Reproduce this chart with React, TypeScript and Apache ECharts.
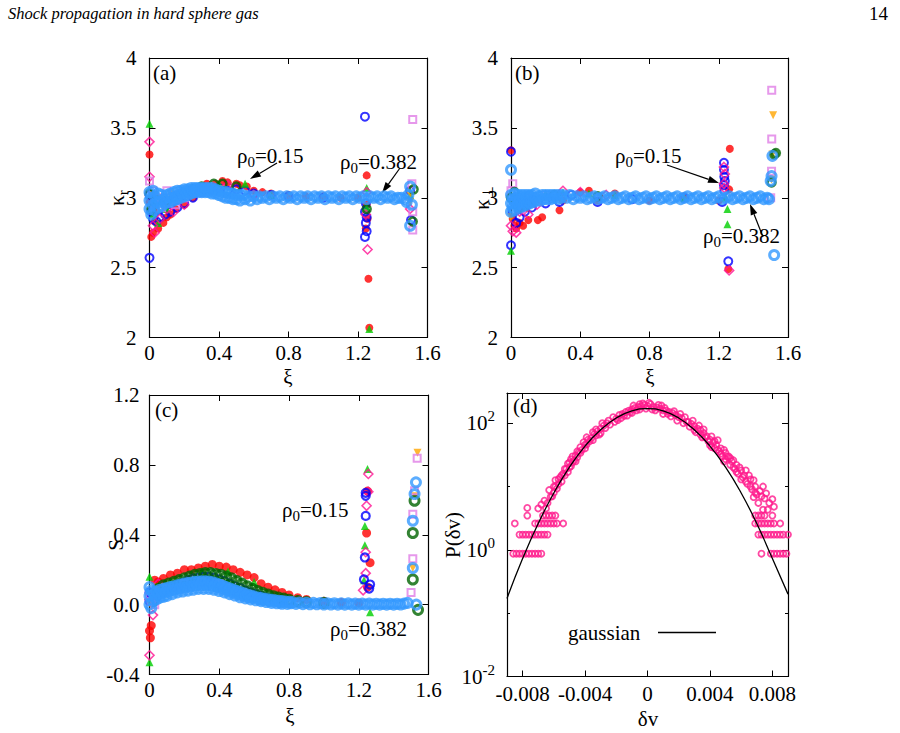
import React, { useEffect, useRef } from "react";
import * as echarts from "echarts";

const FONT = "'Liberation Serif', 'Times New Roman', Times, serif";
const FS = 21;

// ---------- tick values ----------
const xiTicks = [0, 0.4, 0.8, 1.2, 1.6];
const kappaTicks = [2, 2.5, 3, 3.5, 4];
const sTicks = [-0.4, 0, 0.4, 0.8, 1.2];
const dvRange = [-0.009, 0.009];
const dvTicks = [-0.008, -0.004, 0, 0.004, 0.008];
const pRange = [0.01, 300];
const pTicks = [0.01, 1, 100];
const pMinorTicks = [0.1, 10];

// ---------- panel (a): kappa_r vs xi ----------
const aRed = [[0,3.31],[0.0,2.97],[0.01,2.72],[0.02,2.75],[0.03,2.83],[0.04,2.9],[0.05,2.78],[0.08,2.82],[0.1,2.86],[0.12,2.88],[0.15,2.92],[0.2,2.95],[0.25,3.0],[0.3,3.07],[0.33,3.1],[0.38,3.1],[0.42,3.12],[0.45,3.11],[0.5,3.1],[0.52,3.09],[0.56,3.08],[0.6,3.05],[0.65,3.04],[0.7,3.03],[0.8,3.02],[0.9,3.01],[1.0,3.01],[1.1,3.0],[1.2,3.0],[1.25,3.16],[1.25,2.95],[1.255,2.85],[1.245,2.78],[1.26,2.42],[1.265,2.07]];
const aBlue = [[0,2.57],[0,3.02],[0.01,2.9],[0.02,2.85],[0.04,2.83],[0.06,2.86],[0.09,2.88],[0.12,2.9],[0.16,2.93],[0.2,2.96],[0.25,3.0],[0.3,3.04],[0.35,3.06],[0.4,3.07],[0.45,3.05],[0.5,3.06],[0.55,3.05],[0.6,3.03],[0.7,3.02],[0.8,3.01],[1.0,3.0],[1.24,3.58],[1.245,2.96],[1.24,2.9],[1.245,2.82],[1.25,2.76],[1.24,2.72],[1.25,2.86],[1.5,3.05],[1.505,2.84]];
const aGreen = [[0,3.53],[0.02,2.88],[0.05,2.82],[0.1,2.92],[0.3,3.06],[0.4,3.1],[0.55,3.1],[0.7,3.02],[1.25,3.07],[1.25,2.93],[1.265,2.06],[1.5,3.02]];
const aPink = [[0,3.4],[0,3.15],[0.02,2.8],[0.03,2.75],[0.06,2.85],[0.1,2.92],[0.14,2.9],[0.2,2.95],[0.35,3.07],[0.45,3.09],[0.6,3.02],[1.25,3.04],[1.245,2.88],[1.255,2.63],[1.5,2.92]];
const aOrange = [[0.02,3.02],[0.05,3.0],[0.08,2.98],[0.12,3.03],[0.25,3.04],[0.4,3.06],[1.5,3.02],[1.5,2.97]];
const aViolet = [[0,3.12],[0.02,3.05],[0.03,2.95],[0.05,3.0],[0.07,2.93],[0.1,3.05],[0.15,2.95],[0.2,3.0],[0.3,3.04],[1.515,3.56],[1.51,3.1],[1.515,2.9],[1.515,2.77]];
const aDkGreen = [[0,3.03],[0.01,2.92],[0.04,2.98],[0.1,2.98],[0.25,3.06],[0.3,3.08],[0.37,3.1],[0.42,3.1],[0.5,3.08],[1.25,2.92],[1.52,3.06],[1.515,2.83]];
const aDodger = [[0,2.92],[0,2.98],[0,3.04],[0.01,2.88],[0.01,3.0],[0.02,2.95],[0.02,3.05],[0.03,2.91],[0.03,3.01],[0.04,2.97],[0.05,2.93],[0.05,3.03],[0.06,2.97],[0.07,2.94],[0.07,3.02],[0.08,2.99],[0.09,2.96],[0.1,3.02],[0.1,2.97],[0.11,3.0],[0.12,2.97],[0.12,3.03],[0.13,3.0],[0.14,2.98],[0.14,3.04],[0.15,3.01],[0.16,2.99],[0.16,3.05],[0.17,3.02],[0.18,3.0],[0.18,3.05],[0.19,3.03],[0.2,3.01],[0.2,3.06],[0.21,3.04],[0.22,3.02],[0.22,3.06],[0.23,3.04],[0.24,3.03],[0.24,3.07],[0.25,3.05],[0.26,3.04],[0.26,3.07],[0.27,3.06],[0.28,3.04],[0.28,3.07],[0.29,3.06],[0.3,3.04],[0.3,3.07],[0.31,3.06],[0.32,3.04],[0.32,3.07],[0.33,3.06],[0.34,3.04],[0.34,3.07],[0.35,3.06],[0.36,3.03],[0.36,3.07],[0.37,3.05],[0.38,3.03],[0.38,3.06],[0.4,3.05],[0.4,3.02],[0.42,3.04],[0.42,3.01],[0.44,3.04],[0.44,3.0],[0.46,3.03],[0.46,3.0],[0.48,3.03],[0.48,2.99],[0.5,3.02],[0.5,2.99],[0.52,3.02],[0.52,2.98],[0.54,3.02],[0.55,2.99],[0.57,3.01],[0.58,2.98],[0.6,3.01],[0.62,2.99],[0.63,3.01],[0.65,3.0],[0.67,3.01],[0.69,2.99],[0.71,3.01],[0.73,3.0],[0.75,3.01],[0.77,2.99],[0.79,3.01],[0.81,3.0],[0.83,3.01],[0.85,2.99],[0.87,3.01],[0.89,3.0],[0.91,3.01],[0.93,2.99],[0.95,3.01],[0.97,3.0],[0.99,3.01],[1.01,2.99],[1.03,3.01],[1.05,3.0],[1.07,3.01],[1.09,2.99],[1.11,3.01],[1.13,3.0],[1.15,3.01],[1.17,2.99],[1.19,3.01],[1.21,3.0],[1.23,3.01],[1.25,2.99],[1.27,3.01],[1.29,3.0],[1.31,3.01],[1.33,2.99],[1.35,3.01],[1.37,3.0],[1.39,3.01],[1.41,2.99],[1.43,3.0],[1.45,3.0],[1.47,2.99],[1.48,2.97],[1.49,3.02],[1.5,3.08],[1.5,2.8],[1.51,2.95]];

// ---------- panel (b): kappa_perp vs xi ----------
const bRed = [[0,3.34],[0.01,2.85],[0.02,2.8],[0.03,2.78],[0.05,2.82],[0.07,2.8],[0.1,2.84],[0.155,2.84],[0.18,2.86],[0.28,2.91],[0.3,2.98],[0.4,3.04],[0.45,3.05],[0.5,2.98],[0.6,3.03],[0.8,2.98],[1.0,3.01],[1.2,2.98],[1.264,3.35],[1.26,3.06],[1.255,2.49]];
const bBlue = [[0,3.33],[0,2.66],[0.01,2.9],[0.03,2.82],[0.05,2.86],[0.08,2.9],[0.12,2.93],[0.2,2.96],[0.28,2.97],[0.35,3.02],[0.5,2.97],[0.7,2.99],[1.0,3.0],[1.23,3.25],[1.23,3.2],[1.232,3.15],[1.235,3.12],[1.23,3.09],[1.232,3.05],[1.22,2.97],[1.255,2.545]];
const bGreen = [[0,2.62],[0.03,2.95],[0.08,2.93],[0.2,3.03],[0.3,3.04],[0.45,3.03],[0.6,3.02],[1.0,3.0],[1.24,3.0],[1.25,2.92],[1.25,2.81]];
const bPink = [[0,2.8],[0.01,2.76],[0.03,2.75],[0.05,2.9],[0.1,2.88],[0.15,2.95],[0.3,3.05],[0.4,3.04],[0.55,3.02],[1.23,3.22],[1.235,3.17],[1.23,3.1],[1.232,3.07],[1.26,2.48]];
const bOrange = [[0,2.86],[0.02,2.98],[0.05,2.97],[0.1,2.96],[1.514,3.59],[1.51,3.31],[1.505,3.13]];
const bViolet = [[0,3.05],[0.01,3.1],[0.02,3.0],[0.04,2.97],[0.06,2.92],[0.1,3.0],[0.2,3.02],[1.506,3.77],[1.506,3.42],[1.505,3.19],[1.5,3.0]];
const bDkGreen = [[0,3.0],[0.02,3.04],[0.05,2.93],[0.1,2.96],[0.25,3.02],[0.5,3.01],[1.52,3.31],[1.505,3.11],[1.53,3.32]];
const bDodger = [[0,2.9],[0,2.96],[0,3.02],[0,3.2],[0.01,2.93],[0.01,2.99],[0.02,2.91],[0.02,2.97],[0.02,3.03],[0.03,2.94],[0.03,3.0],[0.04,2.96],[0.04,3.02],[0.05,2.93],[0.05,2.99],[0.06,2.96],[0.06,3.02],[0.07,2.94],[0.07,3.0],[0.08,2.97],[0.08,3.02],[0.09,2.95],[0.09,3.0],[0.1,2.97],[0.1,3.02],[0.11,2.96],[0.11,3.01],[0.12,2.98],[0.12,3.02],[0.13,2.97],[0.14,3.0],[0.14,3.03],[0.15,2.98],[0.16,3.01],[0.17,2.98],[0.18,3.02],[0.19,2.99],[0.2,3.02],[0.21,2.99],[0.22,3.02],[0.23,2.99],[0.24,3.02],[0.25,3.0],[0.26,3.02],[0.27,2.99],[0.28,3.02],[0.29,3.0],[0.3,3.02],[0.32,3.0],[0.34,3.02],[0.36,2.99],[0.38,3.01],[0.4,3.0],[0.42,3.01],[0.44,2.99],[0.46,3.0],[0.48,3.01],[0.5,2.99],[0.52,3.0],[0.54,3.01],[0.56,2.99],[0.58,3.0],[0.6,3.01],[0.62,2.99],[0.64,3.0],[0.66,3.01],[0.68,2.99],[0.7,3.0],[0.72,3.01],[0.74,2.99],[0.76,3.0],[0.78,3.01],[0.8,2.99],[0.82,3.0],[0.84,3.01],[0.86,2.99],[0.88,3.0],[0.9,3.01],[0.92,2.99],[0.94,3.0],[0.96,3.01],[0.98,2.99],[1.0,3.0],[1.02,3.01],[1.04,2.99],[1.06,3.0],[1.08,3.01],[1.1,2.99],[1.12,3.0],[1.14,3.01],[1.16,2.99],[1.18,3.0],[1.2,3.01],[1.22,2.99],[1.24,3.0],[1.26,3.01],[1.28,2.99],[1.3,3.0],[1.32,3.01],[1.34,2.99],[1.36,3.0],[1.38,3.01],[1.4,2.99],[1.42,3.0],[1.44,3.01],[1.46,2.99],[1.48,3.0],[1.49,2.99],[1.5,3.12],[1.505,3.155],[1.51,3.3],[1.52,2.59]];

// ---------- panel (c): S vs xi ----------
const cRed = [[0,-0.15],[0.005,-0.19],[0.01,-0.12],[0.03,0.14],[0.05,0.13],[0.08,0.15],[0.12,0.17],[0.16,0.18],[0.2,0.2],[0.24,0.2],[0.28,0.21],[0.32,0.22],[0.36,0.23],[0.4,0.22],[0.44,0.215],[0.48,0.2],[0.52,0.185],[0.56,0.17],[0.6,0.155],[0.64,0.12],[0.68,0.1],[0.72,0.085],[0.76,0.07],[0.8,0.055],[0.85,0.04],[0.9,0.03],[1.0,0.02],[1.1,0.012],[1.2,0.01],[1.25,0.65],[1.245,0.41],[1.265,0.24],[1.25,0.1]];
const cGreen = [[0,0.16],[0,-0.33],[0.3,0.19],[0.45,0.19],[0.6,0.13],[1.25,0.777],[1.235,0.45],[1.235,0.34],[1.23,0.14],[1.265,-0.044]];
const cPink = [[0,-0.29],[0,0.03],[0.02,-0.06],[0.05,0.12],[0.1,0.1],[0.25,0.15],[1.255,0.748],[1.255,0.646],[1.245,0.566],[1.24,0.3],[1.24,0.18],[1.225,0.082]];
const cOrange = [[0,0.01],[0.01,-0.01],[0.05,0.1],[0.15,0.12],[0.3,0.15],[1.537,0.87],[1.525,0.62],[1.51,0.21]];
const cBlue = [[0,0.07],[0,0.02],[0.02,0.05],[0.04,0.04],[0.06,0.065],[0.08,0.075],[0.1,0.085],[0.13,0.1],[0.16,0.115],[0.19,0.125],[0.22,0.14],[0.25,0.15],[0.28,0.155],[0.31,0.16],[0.34,0.16],[0.37,0.155],[0.4,0.145],[0.43,0.135],[0.46,0.12],[0.49,0.105],[0.52,0.095],[0.55,0.08],[0.58,0.07],[0.61,0.06],[0.64,0.05],[0.67,0.042],[0.7,0.035],[0.75,0.027],[0.8,0.02],[1.24,0.64],[1.24,0.623],[1.24,0.508],[1.235,0.27],[1.23,0.144],[1.265,0.115],[1.26,0.092]];
const cDkGreen = [[0.02,0.02],[0.05,0.09],[0.08,0.11],[0.11,0.12],[0.14,0.13],[0.17,0.14],[0.2,0.15],[0.23,0.16],[0.26,0.17],[0.29,0.175],[0.32,0.18],[0.35,0.18],[0.38,0.175],[0.41,0.17],[0.44,0.16],[0.47,0.15],[0.5,0.135],[0.53,0.12],[0.56,0.105],[0.59,0.09],[0.62,0.078],[0.65,0.067],[0.68,0.057],[0.71,0.048],[0.74,0.04],[0.77,0.034],[0.8,0.028],[0.85,0.02],[0.9,0.015],[1.0,0.01],[1.52,0.595],[1.51,0.41],[1.51,0.144],[1.54,-0.03]];
const cViolet = [[0,0.05],[0.01,0.02],[0.03,0.0],[0.06,0.06],[0.1,0.09],[0.2,0.12],[0.3,0.13],[0.4,0.12],[1.535,0.838],[1.52,0.652],[1.51,0.518],[1.51,0.263],[1.5,0.07]];
const cDodger = [[0,0.1],[0,0.05],[0,0.0],[0.01,0.08],[0.01,-0.02],[0.02,0.07],[0.02,0.02],[0.03,0.05],[0.04,0.075],[0.04,0.03],[0.05,0.06],[0.06,0.085],[0.06,0.04],[0.07,0.065],[0.08,0.09],[0.08,0.045],[0.09,0.07],[0.1,0.095],[0.1,0.05],[0.11,0.075],[0.12,0.1],[0.13,0.06],[0.13,0.082],[0.14,0.105],[0.15,0.088],[0.16,0.11],[0.16,0.07],[0.17,0.092],[0.18,0.115],[0.19,0.075],[0.19,0.097],[0.2,0.12],[0.21,0.1],[0.22,0.123],[0.22,0.08],[0.23,0.104],[0.24,0.127],[0.25,0.085],[0.25,0.108],[0.26,0.13],[0.27,0.11],[0.28,0.132],[0.28,0.09],[0.29,0.112],[0.3,0.133],[0.31,0.09],[0.31,0.112],[0.32,0.133],[0.33,0.112],[0.34,0.132],[0.34,0.09],[0.35,0.11],[0.36,0.128],[0.37,0.085],[0.37,0.106],[0.38,0.122],[0.39,0.1],[0.4,0.115],[0.4,0.078],[0.41,0.095],[0.42,0.108],[0.43,0.07],[0.43,0.088],[0.44,0.1],[0.45,0.08],[0.46,0.093],[0.46,0.06],[0.47,0.075],[0.48,0.086],[0.49,0.052],[0.49,0.068],[0.5,0.079],[0.51,0.06],[0.52,0.072],[0.52,0.042],[0.53,0.055],[0.54,0.065],[0.55,0.036],[0.55,0.05],[0.56,0.058],[0.57,0.043],[0.58,0.052],[0.58,0.03],[0.59,0.04],[0.6,0.046],[0.61,0.025],[0.62,0.041],[0.63,0.03],[0.64,0.037],[0.64,0.02],[0.65,0.027],[0.66,0.033],[0.67,0.015],[0.68,0.03],[0.69,0.02],[0.7,0.027],[0.7,0.01],[0.72,0.024],[0.73,0.008],[0.74,0.022],[0.75,0.012],[0.76,0.02],[0.76,0.005],[0.78,0.018],[0.79,0.004],[0.8,0.016],[0.81,0.008],[0.82,0.014],[0.84,0.004],[0.86,0.012],[0.88,0.003],[0.9,0.011],[0.92,0.002],[0.94,0.01],[0.96,0.002],[0.98,0.009],[1.0,0.001],[1.02,0.008],[1.04,0.001],[1.06,0.008],[1.08,0.0],[1.1,0.007],[1.12,0.0],[1.14,0.007],[1.16,0.0],[1.18,0.006],[1.2,0.0],[1.22,0.006],[1.24,0.0],[1.26,0.006],[1.28,0.0],[1.3,0.005],[1.32,0.0],[1.34,0.005],[1.36,0.0],[1.38,0.005],[1.4,0.0],[1.42,0.005],[1.44,0.001],[1.46,0.006],[1.48,0.01],[1.528,0.7],[1.52,0.633],[1.51,0.48],[1.51,0.21],[1.53,0.0]];

// ---------- panel (d): P(dv) ----------
const dPoints = [
  [-0.0025,110],[-0.0022,125],[-0.002,118],[-0.0018,135],[-0.0016,140],[-0.0014,150],[-0.0012,158],[-0.001,165],[-0.0008,175],[-0.0006,180],[-0.0004,185],[-0.0002,195],[0,188],[0.0002,200],[0.0004,180],[0.0006,178],[0.0008,170],[0.001,160],[0.0012,158],[0.0014,150],[0.0016,145],[0.0018,135],[0.002,125],[0.0022,120],[0.0025,105],
  [-0.0015,130],[-0.0005,165],[0.0005,160],[0.0015,128],[-0.001,145],[0.001,140],[-0.0003,205],[0.0009,190],
  [-0.0024,95],[-0.0021,105],[-0.0019,112],[-0.0017,120],[-0.0013,132],[-0.0011,150],[-0.0009,190],[-0.0007,160],[-0.0005,200],[-0.0001,170],[0.0001,210],[0.0003,165],[0.0007,195],[0.0011,175],[0.0013,140],[0.0017,155],[0.0019,110],[0.0021,140],[0.0023,100],[0.0024,125],
  [-0.0026,100],[-0.0028,92],[-0.003,82],[-0.003,70],[-0.0032,75],[-0.0033,64],[-0.0034,68],[-0.0036,58],[-0.0037,52],[-0.0038,55],[-0.004,46],[-0.004,40],[-0.0042,38],[-0.0043,34],[-0.0044,35],[-0.0045,29],[-0.0046,31],[-0.0047,26],[-0.0048,24],[-0.0049,27],[-0.005,20],[-0.005,24],[-0.0051,17],[-0.0052,19],[-0.0053,15],[-0.0054,16],[-0.0055,12],[-0.0056,14],[-0.0057,11],[-0.0058,9.3],[-0.0059,12.6],[-0.006,8],[-0.006,10],[-0.0061,7],[-0.0062,6.9],[-0.0063,8.8],[-0.0064,5.5],[-0.0065,4.5],[-0.0066,6],[-0.0068,5.2],[-0.007,4.5],[-0.0077,4.6],
  [-0.0027,84],[-0.0029,100],[-0.0031,66],[-0.0033,80],[-0.0035,54],[-0.0035,72],[-0.0039,46],[-0.0039,60],[-0.0041,50],[-0.0043,42],[-0.0045,36],[-0.0046,25],[-0.0048,30],[-0.0049,21],[-0.0051,23],[-0.0053,19],[-0.0055,15],[-0.0057,13],[-0.0059,10],
  [-0.0077,3.48],[-0.0067,3.48],[-0.0065,3.48],[-0.0063,3.48],[-0.0061,3.48],[-0.0059,3.48],
  [-0.0085,2.61],[-0.0072,2.61],[-0.007,2.61],[-0.0068,2.61],[-0.0066,2.61],[-0.0064,2.61],[-0.0062,2.61],[-0.006,2.61],[-0.0058,2.61],[-0.0054,2.61],
  [-0.0082,1.74],[-0.008,1.74],[-0.0078,1.74],[-0.0076,1.74],[-0.0074,1.74],[-0.0072,1.74],[-0.007,1.74],[-0.0068,1.74],[-0.0066,1.74],[-0.0064,1.74],
  [-0.0086,0.87],[-0.0084,0.87],[-0.0082,0.87],[-0.008,0.87],[-0.0078,0.87],[-0.0076,0.87],[-0.0074,0.87],[-0.0072,0.87],[-0.007,0.87],[-0.0068,0.87],
  [0.0026,105],[0.0028,98],[0.003,90],[0.003,78],[0.0032,82],[0.0034,78],[0.0034,66],[0.0036,70],[0.0037,60],[0.0038,62],[0.004,55],[0.004,45],[0.0042,50],[0.0043,40],[0.0044,46],[0.0045,54],[0.0046,36],[0.0047,40],[0.0048,30],[0.005,34],[0.005,27],[0.0052,30],[0.0053,22],[0.0054,25],[0.0055,26],[0.0056,19],[0.0057,22],[0.0058,16],[0.006,18],[0.006,13],[0.0062,15],[0.0063,18],[0.0064,11],[0.0066,13],[0.0067,9],[0.0068,12.6],[0.0069,10],[0.007,7.5],[0.0072,8.5],[0.0074,10],[0.0075,6.5],[0.0076,7.8],[0.0078,5.5],[0.008,6.3],[0.0081,4.8],[0.0068,6.8],[0.0071,5.5],
  [0.0027,88],[0.0029,110],[0.0031,72],[0.0033,92],[0.0035,60],[0.0036,80],[0.0039,52],[0.0041,62],[0.0041,42],[0.0043,52],[0.0045,38],[0.0047,33],[0.0049,38],[0.0049,25],[0.0051,30],[0.0053,28],[0.0055,20],[0.0057,17],[0.0059,20],[0.0061,14],[0.0063,12],[0.0065,15],[0.0066,10],[0.0069,8],[0.0073,7],
  [0.0069,3.48],[0.0071,3.48],[0.0073,3.48],[0.0075,3.48],[0.0077,4.3],[0.008,3.48],[0.0074,4.3],
  [0.0069,2.61],[0.0071,2.61],[0.0073,2.61],[0.0075,2.61],[0.0077,2.61],[0.0079,2.61],[0.0081,2.61],[0.0085,2.61],
  [0.0071,1.74],[0.0073,1.74],[0.0075,1.74],[0.0077,1.74],[0.0079,1.74],[0.0081,1.74],[0.0083,1.74],[0.0085,1.74],[0.0087,1.74],[0.009,1.74],
  [0.0073,0.87],[0.0079,0.87],[0.0081,0.87],[0.0083,0.87],[0.0085,0.87],[0.0087,0.87],[0.0089,0.87],
];
const gaussV = [-0.009,-0.008,-0.007,-0.006,-0.005,-0.004,-0.003,-0.002,-0.001,0,0.001,0.002,0.003,0.004,0.005,0.006,0.007,0.008,0.009];
const gaussP = [0.171,0.728,2.61,7.91,20.2,43.5,78.9,121,156,170,156,121,78.9,43.5,20.2,7.91,2.61,0.728,0.2];

// ---------- colours ----------
const RED = "#ff0000", BLUE = "#0000ff", GREEN = "#00d000", PINK = "#ff1493",
  ORANGE = "#ffa500", VIOLET = "#e07ee6", DKGREEN = "#006400", DODGER = "#3399ff", DPINK = "#ff1a8c";

const GRIDS = [
  { left: 149.5, top: 58, width: 278, height: 279.5 },
  { left: 511, top: 58, width: 277, height: 279.5 },
  { left: 149.5, top: 395, width: 279, height: 279.5 },
  { left: 507, top: 393, width: 281, height: 283.5 },
];

const axLine = { show: true, onZero: false, lineStyle: { color: "#000", width: 1.2 } };
const axTick = { show: true, inside: true, length: 6, lineStyle: { color: "#000", width: 1 } };
const lab = (extra: any) => ({ show: true, color: "#000", fontFamily: FONT, fontSize: FS, ...extra });

function valAxis(gi: number, pos: string, ticks: number[], showLabel: boolean, fmt: (v: number) => string, margin: number) {
  return {
    type: "value", gridIndex: gi, position: pos,
    min: ticks[0], max: ticks[ticks.length - 1], interval: ticks[1] - ticks[0],
    axisLine: axLine, axisTick: axTick, splitLine: { show: false },
    axisLabel: showLabel ? lab({ margin, formatter: fmt }) : { show: false },
  };
}

const num = (v: number) => String(parseFloat(v.toFixed(4)));
const one = (v: number) => v.toFixed(1);

function sc(data: number[][], gi: number, kind: string, color: string, size: number, bw = 1.5) {
  const s: any = { type: "scatter", data, xAxisIndex: gi * 2, yAxisIndex: gi * 2, symbolSize: size, clip: false, silent: true, animation: false };
  const open = { color: "rgba(0,0,0,0)", borderColor: color, borderWidth: bw };
  if (kind === "dot") { s.symbol = "circle"; s.itemStyle = { color }; }
  else if (kind === "ring") { s.symbol = "circle"; s.itemStyle = open; }
  else if (kind === "tri") { s.symbol = "triangle"; s.itemStyle = { color }; }
  else if (kind === "itri") { s.symbol = "triangle"; s.symbolRotate = 180; s.itemStyle = { color }; }
  else if (kind === "dia") { s.symbol = "diamond"; s.itemStyle = open; }
  else if (kind === "sq") { s.symbol = "rect"; s.itemStyle = open; }
  return s;
}

function panelSeries(gi: number, d: any) {
  return [
    sc(d.red, gi, "dot", RED, 8),
    sc(d.blue, gi, "ring", BLUE, 8, 2),
    sc(d.green, gi, "tri", GREEN, 8),
    sc(d.pink, gi, "dia", PINK, 9, 1.6),
    sc(d.orange, gi, "itri", ORANGE, 8),
    sc(d.violet, gi, "sq", VIOLET, 7, 2),
    sc(d.dkgreen, gi, "ring", DKGREEN, 8, 2.5),
    sc(d.dodger, gi, "ring", DODGER, 9, 3),
  ];
}

const richA = { fontFamily: FONT, fontSize: FS, fill: "#000", lineHeight: 26 };
const richS = { fontFamily: FONT, fontSize: 15, fill: "#000", lineHeight: 26, padding: [12, 0, 0, 0] };

function rtext(x: number, y: number, text: string, align = "left", rotation = 0) {
  return {
    type: "text", x, y, rotation, silent: true,
    style: { text, align, verticalAlign: "middle", fontFamily: FONT, fontSize: FS, fill: "#000", rich: { a: richA, s: richS } },
  };
}

function arrow(x1: number, y1: number, x2: number, y2: number) {
  const ang = Math.atan2(y2 - y1, x2 - x1);
  const L = 11, Wd = 3.5;
  const bx = x2 - L * Math.cos(ang), by = y2 - L * Math.sin(ang);
  const px = -Math.sin(ang) * Wd, py = Math.cos(ang) * Wd;
  return [
    { type: "line", silent: true, shape: { x1, y1, x2: bx, y2: by }, style: { stroke: "#000", lineWidth: 1.2 } },
    { type: "polygon", silent: true, shape: { points: [[x2, y2], [bx + px, by + py], [bx - px, by - py]] }, style: { fill: "#000" } },
  ];
}

export default function App() {
  const ref = useRef<HTMLDivElement>(null);
  useEffect(() => {
    if (!ref.current) return;
    const chart = echarts.init(ref.current, undefined, { renderer: "svg" });

    const logLabel = (v: number) => `{b|10}{s|${Math.round(Math.log10(v))}}`;
    const logRich = {
      b: { fontFamily: FONT, fontSize: FS, color: "#000", lineHeight: 26 },
      s: { fontFamily: FONT, fontSize: 15, color: "#000", lineHeight: 26, padding: [0, 0, 14, 0] },
    };
    const logAxisBase = { type: "log", logBase: 10, gridIndex: 3, min: pRange[0], max: pRange[1], axisLine: axLine, splitLine: { show: false } };
    const noLine = { show: false, onZero: false };

    const xAxis: any[] = [
      valAxis(0, "bottom", xiTicks, true, num, 5),
      valAxis(0, "top", xiTicks, false, num, 5),
      valAxis(1, "bottom", xiTicks, true, num, 5),
      valAxis(1, "top", xiTicks, false, num, 5),
      valAxis(2, "bottom", xiTicks, true, num, 5),
      valAxis(2, "top", xiTicks, false, num, 5),
      {
        type: "value", gridIndex: 3, position: "bottom", min: dvRange[0], max: dvRange[1],
        axisLine: axLine, axisTick: { ...axTick, customValues: dvTicks }, splitLine: { show: false },
        axisLabel: lab({ margin: 7, customValues: dvTicks, formatter: num }),
      },
      {
        type: "value", gridIndex: 3, position: "top", min: dvRange[0], max: dvRange[1],
        axisLine: axLine, axisTick: { ...axTick, customValues: dvTicks }, splitLine: { show: false },
        axisLabel: { show: false },
      },
    ];
    const yAxis: any[] = [
      valAxis(0, "left", kappaTicks, true, num, 13),
      valAxis(0, "right", kappaTicks, false, num, 13),
      valAxis(1, "left", kappaTicks, true, num, 13),
      valAxis(1, "right", kappaTicks, false, num, 13),
      valAxis(2, "left", sTicks, true, one, 10),
      valAxis(2, "right", sTicks, false, one, 10),
      { ...logAxisBase, position: "left", axisTick: { ...axTick, customValues: pTicks },
        axisLabel: lab({ margin: 12, customValues: pTicks, formatter: logLabel, rich: logRich }) },
      { ...logAxisBase, position: "right", axisTick: { ...axTick, customValues: pTicks }, axisLabel: { show: false } },
      { ...logAxisBase, position: "left", offset: 0, axisLine: noLine, axisTick: { ...axTick, length: 3, customValues: pMinorTicks }, axisLabel: { show: false } },
      { ...logAxisBase, position: "right", offset: 0, axisLine: noLine, axisTick: { ...axTick, length: 3, customValues: pMinorTicks }, axisLabel: { show: false } },
    ];

    const series: any[] = [
      ...panelSeries(0, { red: aRed, blue: aBlue, green: aGreen, pink: aPink, orange: aOrange, violet: aViolet, dkgreen: aDkGreen, dodger: aDodger }),
      ...panelSeries(1, { red: bRed, blue: bBlue, green: bGreen, pink: bPink, orange: bOrange, violet: bViolet, dkgreen: bDkGreen, dodger: bDodger }),
      sc(cRed, 2, "dot", RED, 9),
      sc(cGreen, 2, "tri", GREEN, 8),
      sc(cPink, 2, "dia", PINK, 9, 1.6),
      sc(cOrange, 2, "itri", ORANGE, 8),
      sc(cBlue, 2, "ring", BLUE, 8, 2.2),
      sc(cDkGreen, 2, "ring", DKGREEN, 9, 3),
      sc(cViolet, 2, "sq", VIOLET, 7, 2),
      sc(cDodger, 2, "ring", DODGER, 9, 3),
      sc(dPoints, 3, "ring", DPINK, 6, 1.8),
      {
        type: "line", xAxisIndex: 6, yAxisIndex: 6, data: gaussV.map((v, i) => [v, gaussP[i]]),
        smooth: true, showSymbol: false, silent: true, lineStyle: { color: "#000", width: 1.3 },
      },
    ];

    const graphic: any[] = [
      { type: "text", x: 8, y: 13, silent: true, style: { text: "Shock propagation in hard sphere gas", fontFamily: FONT, fontStyle: "italic", fontSize: 16.5, fill: "#000", align: "left", verticalAlign: "middle" } },
      { type: "text", x: 888, y: 13, silent: true, style: { text: "14", fontFamily: FONT, fontSize: 19, fill: "#000", align: "right", verticalAlign: "middle" } },
      rtext(153, 73, "(a)"),
      rtext(515, 73, "(b)"),
      rtext(155, 410, "(c)"),
      rtext(513, 406, "(d)"),
      rtext(117, 198, "{a|κ}{s|r}", "center", Math.PI / 2),
      rtext(482, 198, "{a|κ}{s|⊥}", "center", Math.PI / 2),
      rtext(116, 545, "S", "center", Math.PI / 2),
      rtext(453, 535, "P(δv)", "center", Math.PI / 2),
      rtext(288, 377, "ξ", "center"),
      rtext(650, 377, "ξ", "center"),
      rtext(290, 716, "ξ", "center"),
      rtext(648, 719, "δv", "center"),
      rtext(237, 156, "{a|ρ}{s|0}{a|=0.15}"),
      rtext(340, 162, "{a|ρ}{s|0}{a|=0.382}"),
      rtext(615, 156, "{a|ρ}{s|0}{a|=0.15}"),
      rtext(703, 236, "{a|ρ}{s|0}{a|=0.382}"),
      rtext(282, 510, "{a|ρ}{s|0}{a|=0.15}"),
      rtext(330, 629, "{a|ρ}{s|0}{a|=0.382}"),
      ...arrow(277, 163, 250, 179),
      ...arrow(400, 168, 382, 193),
      ...arrow(667, 165, 719, 183),
      ...arrow(763, 237, 750, 204),
      rtext(568, 633, "gaussian"),
      { type: "line", silent: true, shape: { x1: 658, y1: 632.5, x2: 716, y2: 632.5 }, style: { stroke: "#000", lineWidth: 1.3 } },
    ];

    chart.setOption({
      animation: false,
      backgroundColor: "#fff",
      grid: GRIDS.map((g) => ({ ...g, containLabel: false })),
      xAxis, yAxis, series, graphic,
    });
    return () => chart.dispose();
  }, []);
  return <div ref={ref} style={{ position: "absolute", left: 0, top: 0, width: 900, height: 733 }} />;
}
